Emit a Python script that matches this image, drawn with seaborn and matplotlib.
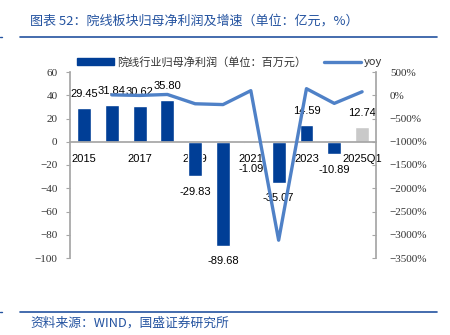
import matplotlib
matplotlib.use("Agg")
import matplotlib.pyplot as plt
import seaborn as sns
import numpy as np
import pandas as pd
from matplotlib.patches import Patch
from matplotlib.lines import Line2D
from matplotlib.ticker import FixedLocator, FuncFormatter

# ---- data ----
categories = ["2015", "2016", "2017", "2018", "2019", "2020", "2021", "2022", "2023", "2024", "2025Q1"]
profit = [29.45, 31.84, 30.62, 35.80, -29.83, -89.68, -1.09, -35.07, 14.59, -10.89, 12.74]
yoy = [np.nan, 8.1, -3.8, 16.9, -183.3, -200.6, 98.8, -3117.4, 141.6, -174.6, 75.0]
shown_xlabels = ["2015", "2017", "2019", "2021", "2023", "2025Q1"]
title = "图表 52：院线板块归母净利润及增速（单位：亿元，%）"
source = "资料来源：WIND，国盛证券研究所"
bar_label = "院线行业归母净利润（单位：百万元）"
line_label = "yoy"

sns.set_theme(style="white")
plt.rcParams['font.family'] = ['Liberation Sans', 'Noto Sans CJK SC', 'DejaVu Sans']
plt.rcParams['axes.unicode_minus'] = True

BLUE = "#003E96"
GRAY_BAR = "#C9C9C9"
LINE = "#4F81C7"
TITLE_BLUE = "#2453A0"
SPINE = "#A6A6A6"

df = pd.DataFrame({"cat": categories, "profit": profit, "yoy": yoy})
df["pos"] = np.arange(len(df))
colors = [BLUE] * (len(categories) - 1) + [GRAY_BAR]

fig = plt.figure(figsize=(4.5, 3.35), dpi=100)
ax = fig.add_axes([70/450, 1-258/335, 306/450, 186/335])

sns.barplot(data=df, x="cat", y="profit", hue="cat", palette=colors, dodge=False,
            legend=False, width=0.5, ax=ax, saturation=1)
ax.set_xlim(-0.5, len(categories) - 0.5)
ax.set_ylim(-100, 60)
ax.set_yticks(np.arange(-100, 61, 20))
ax.yaxis.set_major_formatter(FuncFormatter(lambda v, p: f"{v:.0f}".replace("-", "\u2212")))
ax.set_xlabel("")
ax.set_ylabel("")

# x axis at zero
ax.spines['bottom'].set_position(('data', 0))
ax.spines['bottom'].set_color(SPINE)
ax.spines['left'].set_color(SPINE)
ax.spines['top'].set_visible(False)
ax.spines['right'].set_visible(False)
ax.set_xticks(range(len(categories)))
ax.set_xticklabels([c if c in shown_xlabels else "" for c in categories])
ax.xaxis.set_minor_locator(FixedLocator(np.arange(0.5, len(categories) - 1, 1)))
ax.tick_params(axis='x', which='major', length=0, pad=9, labelsize=8,
               labelfontfamily='Liberation Sans', labelcolor='black')
ax.tick_params(axis='x', which='minor', length=3, direction='in', color=SPINE, width=0.8)
ax.tick_params(axis='y', length=3, direction='out', color=SPINE, width=0.8, pad=6,
               labelsize=8, labelfontfamily='Liberation Serif', labelcolor='#333333')

# data labels
for i, v in enumerate(profit):
    off = 10 if v >= 0 else -11
    if categories[i] == "2021":
        off = -19
    ax.annotate(f"{v:.2f}", (i, v), xytext=(0, off), textcoords="offset points",
                ha="center", va="center", fontsize=8, color="black",
                family=['Liberation Sans'])

# yoy on twin axis
ax2 = ax.twinx()
sns.lineplot(data=df, x="pos", y="yoy", color=LINE, linewidth=2.4, ax=ax2)
ax2.set_ylim(-3500, 500)
ax2.set_yticks(np.arange(-3500, 501, 500))
ax2.yaxis.set_major_formatter(FuncFormatter(lambda v, p: f"{v:.0f}%".replace("-", "\u2212")))
ax2.set_xlim(-0.5, len(categories) - 0.5)
ax2.set_xlabel("")
ax2.set_ylabel("")
for s in ['top', 'left', 'bottom']:
    ax2.spines[s].set_visible(False)
ax2.spines['right'].set_color(SPINE)
ax2.tick_params(axis='y', length=3, direction='in', color=SPINE, width=0.8, pad=10,
                labelsize=8, labelfontfamily='Liberation Serif', labelcolor='#333333')

# legend
handles = [Patch(facecolor=BLUE, edgecolor=BLUE),
           Line2D([0], [0], color=LINE, lw=2.4)]
leg = fig.legend(handles, [bar_label, line_label], loc="center left",
                 bbox_to_anchor=(77/450, 1-62/335), ncol=2, frameon=False,
                 fontsize=8, handlelength=3.3, handleheight=0.6,
                 columnspacing=1.6, handletextpad=0.3, borderaxespad=0, borderpad=0)
for t in leg.get_texts():
    t.set_family(['Noto Sans CJK SC', 'Liberation Sans'])
    t.set_color("#333333")

# title, rules and source
fig.text(30/450, 1-21/335, title, fontsize=9.4, color=TITLE_BLUE, style='italic',
         family=['Noto Sans CJK SC', 'DejaVu Sans'], va='center', ha='left')
fig.add_artist(Line2D([20/450, 437/450], [1-37/335, 1-37/335], color=TITLE_BLUE, lw=1.2))
fig.add_artist(Line2D([0, 2/450], [1-37/335, 1-37/335], color=TITLE_BLUE, lw=1.0))
fig.add_artist(Line2D([20/450, 437/450], [1-312/335, 1-312/335], color=TITLE_BLUE, lw=1.2))
fig.add_artist(Line2D([0, 2/450], [1-312/335, 1-312/335], color=TITLE_BLUE, lw=1.0))
fig.text(30/450, 1-323/335, source, fontsize=9.2, color=TITLE_BLUE, style='italic',
         family=['Noto Sans CJK SC', 'DejaVu Sans'], va='center', ha='left')

fig.savefig("out.png", dpi=100)
